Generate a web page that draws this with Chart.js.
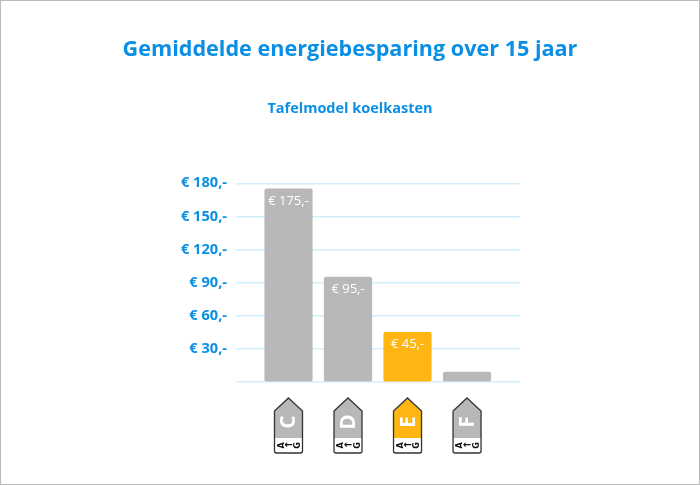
<!DOCTYPE html>
<html>
<head>
<meta charset="utf-8">
<title>Gemiddelde energiebesparing</title>
<script src="https://cdn.jsdelivr.net/npm/chart.js@4/dist/chart.umd.min.js"></script>
<style>
  html, body { margin: 0; padding: 0; background: #fff; overflow: hidden; }
  #wrap { position: relative; width: 700px; height: 485px; box-sizing: border-box; border: 1px solid #bbb; }
  #wrap canvas { position: absolute; left: -1px; top: -1px; }
</style>
</head>
<body>
<div id="wrap"><canvas id="savingsChart" width="700" height="485"></canvas></div>
<script>
const title = "Gemiddelde energiebesparing over 15 jaar"
const subtitle = "Tafelmodel koelkasten"
const categories = ["C", "D", "E", "F"]
const savings = [175, 95, 45, 9]
const barLabels = ["€ 175,-", "€ 95,-", "€ 45,-", ""]
const yTicks = [0, 30, 60, 90, 120, 150, 180]
const highlighted = "E"

const BLUE = "#0a8fe6"
const GREY = "#b8b8b8"
const ORANGE = "#ffb612"
const FONT = '"Open Sans", sans-serif'
const TAG_FONT = '"DejaVu Sans", sans-serif'

const colorFor = (cat) => (cat === highlighted ? ORANGE : GREY)

// value labels inside the bars
const barLabelPlugin = {
  id: "barLabels",
  afterDatasetsDraw(chart) {
    const { ctx } = chart
    ctx.save()
    ctx.fillStyle = "#fff"
    ctx.font = `13px ${FONT}`
    ctx.textAlign = "center"
    ctx.textBaseline = "middle"
    chart.getDatasetMeta(0).data.forEach((bar, i) => {
      ctx.fillText(barLabels[i], bar.x, bar.y + 12)
    })
    ctx.restore()
  },
}

// energy label tags under the axis
const energyTagPlugin = {
  id: "energyTags",
  afterDraw(chart) {
    const { ctx } = chart
    const xScale = chart.scales.x
    const top = 398, shoulder = 411, split = 438, bottom = 453, half = 14
    categories.forEach((cat, i) => {
      const cx = xScale.getPixelForValue(i + 1)
      const path = () => {
        ctx.beginPath()
        ctx.moveTo(cx, top)
        ctx.lineTo(cx + half, shoulder)
        ctx.lineTo(cx + half, bottom - 2)
        ctx.quadraticCurveTo(cx + half, bottom, cx + half - 2, bottom)
        ctx.lineTo(cx - half + 2, bottom)
        ctx.quadraticCurveTo(cx - half, bottom, cx - half, bottom - 2)
        ctx.lineTo(cx - half, shoulder)
        ctx.closePath()
      }
      ctx.save()
      path()
      ctx.fillStyle = "#fff"
      ctx.fill()
      ctx.save()
      ctx.clip()
      ctx.fillStyle = colorFor(cat)
      ctx.fillRect(cx - half, top, half * 2, split - top)
      ctx.restore()
      path()
      ctx.strokeStyle = "#333"
      ctx.lineWidth = 1.3
      ctx.stroke()

      ctx.textAlign = "center"
      ctx.textBaseline = "middle"
      const turned = (text, x, y, font, color) => {
        ctx.save()
        ctx.translate(x, y)
        ctx.rotate(-Math.PI / 2)
        ctx.font = font
        ctx.fillStyle = color
        ctx.fillText(text, 0, 0)
        ctx.restore()
      }
      turned(cat, cx + 1, 422, `bold 21px ${FONT}`, "#fff")
      turned("A", cx - 7, 445.5, `bold 8px ${TAG_FONT}`, "#111")
      turned("G", cx + 9.5, 445.5, `bold 8px ${TAG_FONT}`, "#111")
      ctx.font = `bold 10px ${TAG_FONT}`
      ctx.fillStyle = "#111"
      ctx.fillText("←", cx, 445)
      ctx.restore()
    })
  },
}

new Chart(document.getElementById("savingsChart"), {
  type: "bar",
  data: {
    datasets: [
      {
        data: savings.map((v, i) => ({ x: i + 1, y: v })),
        backgroundColor: categories.map(colorFor),
        borderRadius: 2,
        borderSkipped: false,
        barThickness: 47.5,
      },
    ],
  },
  options: {
    responsive: false,
    animation: false,
    plugins: {
      legend: { display: false },
      tooltip: { enabled: false },
      title: {
        display: true,
        text: title,
        color: BLUE,
        font: { family: FONT, size: 21.6, weight: "bold" },
        padding: { top: 37, bottom: 0 },
      },
      subtitle: {
        display: true,
        text: subtitle,
        color: BLUE,
        font: { family: FONT, size: 14.5, weight: "bold" },
        padding: { top: 37, bottom: 66 },
      },
    },
    scales: {
      x: {
        type: "linear",
        offset: false,
        min: 0.118,
        max: 4.89,
        afterFit(scale) {
          scale.height = 103
        },
        grid: { display: false },
        border: { display: false },
        ticks: { display: false },
      },
      y: {
        min: 0,
        max: 180,
        afterFit(scale) {
          scale.width = 236
        },
        afterBuildTicks(scale) {
          scale.ticks = yTicks.map((value) => ({ value }))
        },
        grid: { color: "#d3eefc", lineWidth: 1.5, drawTicks: false },
        border: { display: false },
        ticks: {
          color: BLUE,
          padding: 9,
          font: { family: FONT, size: 14.6, weight: "bold" },
          callback: (v) => (v === 0 ? "" : `€ ${v},-`),
        },
      },
      // empty axis, only keeps the right margin free
      rightMargin: {
        position: "right",
        afterFit(scale) {
          scale.width = 180
        },
        grid: { display: false },
        border: { display: false },
        ticks: { display: false },
      },
    },
  },
  plugins: [barLabelPlugin, energyTagPlugin],
})
</script>
</body>
</html>
